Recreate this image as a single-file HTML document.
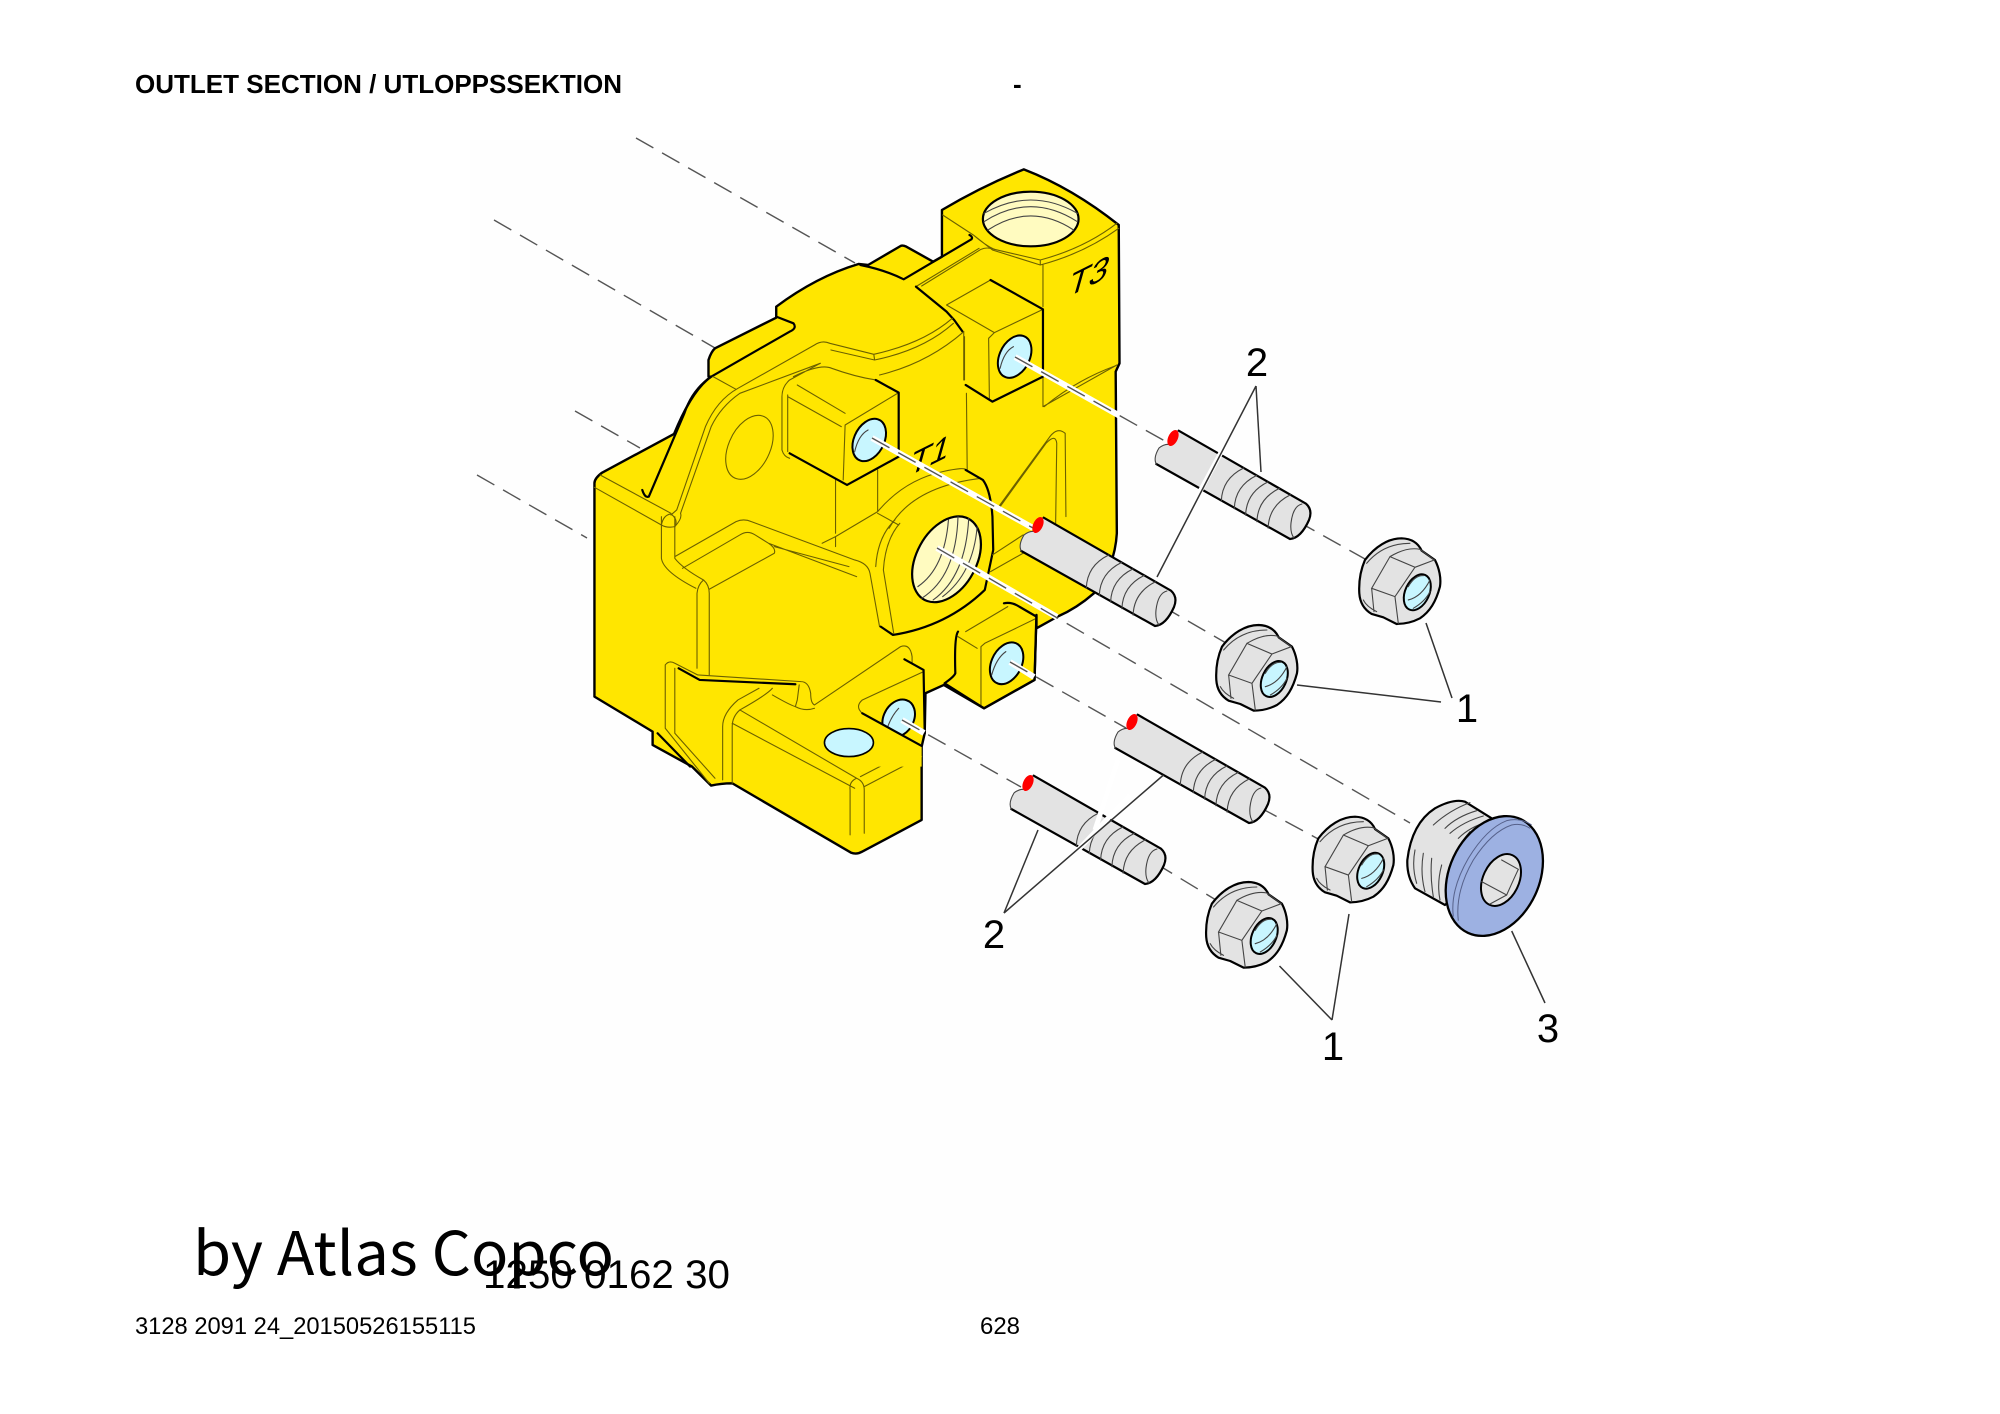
<!DOCTYPE html>
<html><head><meta charset="utf-8"><title>Outlet section</title>
<style>
html,body{margin:0;padding:0;background:#fff}
svg{display:block}
svg *{vector-effect:non-scaling-stroke}
.k{fill:none;stroke:#000;stroke-width:2.2;stroke-linejoin:round;stroke-linecap:round}
.t{fill:none;stroke:#6b6000;stroke-width:1.1;stroke-linejoin:round;stroke-linecap:round}
.g{fill:none;stroke:#444;stroke-width:1.1;stroke-linecap:round}
.d{stroke:#555;stroke-width:1.4;stroke-dasharray:20 10;fill:none}
.w{stroke:#fff;stroke-width:6;fill:none}
.l{stroke:#333;stroke-width:1.5;fill:none}
.h{stroke:#fff;stroke-width:5;fill:none}
.c{fill:#c8f6ff;stroke:#000;stroke-width:2}
.y{fill:#fffbc0;stroke:#000;stroke-width:2.2}
text{font-family:"Liberation Sans",sans-serif;fill:#000}
.n{font-size:40px;text-anchor:middle}
</style></head>
<body>
<svg width="2000" height="1414" viewBox="0 0 2000 1414" xmlns="http://www.w3.org/2000/svg">
<defs>
<g id="stud">
<path d="M5.7 -7.3L133 65.7Q140 72 136 82Q128 100 117 101L-16.7 26Q-20 20 -14 10Q-8 5 -1.7 6.7Z" fill="#e3e3e3"/>
<path class="k" d="M5.7 -7.3L133 65.7Q140 72 136 82Q128 100 117 101L-16.7 26"/>
<path class="g" d="M-16.7 26Q-20 20 -14 10Q-8 5 -1.7 6.7"/>
<path class="g" d="M70.7 30Q49 40.6 48.3 63.3M83.7 37.4Q62 48 61.3 70.7M95 43.9Q73.4 54.5 72.6 77.2M106.3 50.4Q84.7 61 83.9 83.7M117.5 56.8Q95.9 67.5 95.1 90.1M129 66Q120 68 118 85Q117 95 121 100"/>
<ellipse cx="0" cy="0" rx="4.8" ry="8.5" transform="rotate(25)" fill="#f00"/>
</g>
<g id="nut">
<g transform="scale(.3333) translate(-952,-787)">
<path d="M795 690C825 650 865 625 905 625C935 626 955 640 965 662L1005 690C1018 715 1024 745 1020 770C1008 815 990 845 960 865C935 878 915 882 890 882L850 862L815 852C795 840 780 820 778 790C776 755 782 720 795 690Z" fill="#e3e3e3" stroke="#000" stroke-width="2.2" stroke-linejoin="round"/>
<path class="g" d="M870 680L945 712L885 800L815 775ZM870 680Q920 650 960 658L1003 690L945 712M815 775L822 845M885 800L895 880M800 700Q850 640 930 640M790 810Q800 830 830 845"/>
<ellipse cx="952" cy="787" rx="36" ry="57" transform="rotate(25 952 787)" class="c"/>
<path class="g" d="M925 770Q945 735 972 737M925 810Q965 800 990 750M940 835Q975 815 990 785"/>
</g>
</g>
</defs>

<rect width="2000" height="1414" fill="#fff"/>
<rect x="470" y="140" width="1130" height="1160" fill="#fefefe"/>

<!-- header / footer text -->
<text x="135" y="93" font-size="26" font-weight="bold" textLength="487" lengthAdjust="spacingAndGlyphs">OUTLET SECTION / UTLOPPSSEKTION</text>
<text x="1013" y="93" font-size="26" font-weight="bold">-</text>
<text x="193" y="1275" style="font-family:'Noto Sans CJK SC','Liberation Sans',sans-serif" font-size="60" textLength="421" lengthAdjust="spacingAndGlyphs">by Atlas Copco</text>
<text x="483" y="1288" font-size="40" textLength="247" lengthAdjust="spacingAndGlyphs">1250 0162 30</text>
<text x="135" y="1334" font-size="23.6" textLength="341" lengthAdjust="spacingAndGlyphs">3128 2091 24_20150526155115</text>
<text x="980" y="1334" font-size="23.6" textLength="40" lengthAdjust="spacingAndGlyphs">628</text>

<!-- far dashed lines -->
<line class="d" x1="636" y1="138" x2="855" y2="263"/>
<line class="d" x1="494" y1="220" x2="715" y2="348"/>
<line class="d" x1="575" y1="411" x2="640" y2="448"/>
<line class="d" x1="477" y1="475" x2="587" y2="538"/>

<!-- main body -->
<g transform="translate(560,150) scale(.3827,.3333)">
<path fill="#ffe600" stroke="#000" stroke-width="2.4" stroke-linejoin="round" d="M90 1000Q90 985 110 968L298 852Q345 720 395 680L388 680L388 630Q395 605 405 595L565 503L565 470Q670 380 780 342L805 345L890 288Q895 285 905 290L975 335L998 320L998 180Q1100 110 1212 58Q1340 115 1460 225L1462 640L1452 665L1455 1150Q1450 1250 1395 1330Q1350 1375 1300 1400L1245 1435L1245 1395L1240 1590L1108 1675L1003 1605L955 1630L953 1750L945 1790L945 2010L790 2105Q775 2115 760 2108L450 1900Q420 1900 395 1907L345 1850L242 1785L242 1745L90 1640Z"/>

<!-- tower -->
<ellipse cx="1230" cy="207" rx="125" ry="82" class="y"/>
<path class="g" d="M1108 190Q1230 110 1352 190M1108 215Q1230 125 1352 215M1118 240Q1230 156 1342 240"/>
<path class="t" d="M1000 195L1080 255Q1110 285 1135 298L1255 330Q1370 295 1455 220M1080 255L1130 300L1255 345Q1370 310 1460 235M1255 330L1255 345M1262 345L1262 470M1262 680L1262 770L1455 645M1265 770Q1350 690 1450 648"/>
<path class="k" d="M785 345Q850 360 898 388L1075 268Q1080 262 1070 255"/>
<path class="t" d="M945 408L1100 298Q1115 290 1135 298M930 410L1095 295"/>
<path class="k" d="M930 410L1010 485L1030 510L1052 545"/>

<!-- upper plate -->
<path class="k" d="M565 500L610 520Q620 535 600 545L395 680M395 680Q345 720 325 790L232 1040Q222 1045 215 1020"/>
<path class="t" d="M1025 505Q950 580 820 613L705 580Q685 570 665 585L465 715Q410 750 380 830L305 1080L290 1095M1055 545Q960 640 835 675M820 613L822 630Q950 600 1028 520M708 600L822 630M680 640L470 730Q420 770 395 830L315 1090Q320 1105 300 1130M400 680L460 718M105 975L290 1090M90 1012L265 1125M265 1125Q270 1095 290 1092Q310 1110 300 1130Q280 1135 265 1125"/>
<ellipse cx="495" cy="892" rx="55" ry="100" transform="rotate(20 495 892)" class="t"/>
<path class="t" d="M1057 560L1057 690M1062 730L1064 960M1140 1080L1280 860Q1300 830 1320 850L1322 1100M1150 1070L1270 880Q1295 850 1298 880L1295 1130M720 990L720 1150M830 960L830 1085L720 1160M830 1090L885 1125M830 1085Q900 990 1000 965Q1060 950 1060 960M860 1135Q920 1010 1100 985"/>

<!-- T3 block -->
<path class="t" d="M1010 465L1125 390M1010 465L1135 548L1262 478M1135 548L1120 565L1122 750M1055 545L1055 690"/>
<path class="k" d="M1125 390L1262 478L1262 680L1130 755L1060 705"/>
<ellipse cx="1188" cy="620" rx="40" ry="66" transform="rotate(20 1188 620)" class="c"/>
<path class="g" d="M1150 655Q1160 605 1185 590"/>

<!-- T1 block -->
<path class="t" d="M595 735L595 905M595 740L735 830M620 705L745 790M885 728L745 825L740 990M680 640L600 690Q580 710 580 740L580 900Q585 920 600 925M610 680Q680 640 710 655Q770 680 825 690"/>
<path class="k" d="M825 690L885 728L885 920L750 1005L600 910"/>
<ellipse cx="808" cy="870" rx="40" ry="66" transform="rotate(20 808 870)" class="c"/>
<path class="g" d="M770 905Q780 855 805 840"/>

<!-- lower features, y offset = zoom 2 -->
<g transform="translate(0,1050)">
<path class="t" d="M265 50L265 175Q270 215 355 265M300 50L300 175Q320 205 375 240M300 170L460 65Q480 55 500 65L770 180Q805 190 810 220L835 380M320 205L470 105Q490 90 510 105L545 130L775 230M560 140L755 200M545 130Q565 145 560 160L390 268M375 240Q360 255 358 280L358 505M375 240Q390 255 390 280L390 525"/>
<path class="t" d="M720 110L685 130M720 110L720 140"/>
<path class="t" d="M275 495Q285 480 300 490L360 525L630 545Q650 545 655 580Q655 610 665 615L890 440Q915 430 920 470L920 490M300 505L300 700L405 835M275 495L275 685L390 850M520 565L465 600Q425 640 425 680L425 840M555 565Q540 585 470 630Q450 650 450 680L450 850M555 585Q600 615 615 620Q640 635 665 625M625 555L620 600L615 620"/>
<path class="k" d="M310 505L365 540L615 553M255 700L340 800"/>
<path class="t" d="M450 670L770 865M470 630L775 835Q795 845 795 870M775 835Q755 845 758 870M795 860L945 770M785 830L945 735M758 870L758 1005M795 870L795 1000"/>

<!-- boss -->
<path class="k" d="M1060 -90L1105 -60Q1125 -30 1130 50L1132 150L1110 270Q1010 380 870 405L838 380"/>
<path class="t" d="M888 70Q850 120 845 210L872 400M875 60Q830 110 825 200M1125 215L1225 150M1130 165L1210 105"/>
<ellipse cx="1010" cy="178" rx="80" ry="135" transform="rotate(22 1010 178)" class="y"/>
<path class="g" d="M945 295Q1035 230 1040 50M975 300Q1060 230 1068 55M1000 290Q1080 220 1090 80M935 260Q1005 205 1015 60"/>

<!-- notch -->
<ellipse cx="885" cy="655" rx="40" ry="58" transform="rotate(20 885 655)" class="c"/>
<path class="g" d="M855 685Q865 650 885 625"/>
<path d="M790 640L945 738L945 800L790 800Z" fill="#ffe600"/>
<path class="t" d="M950 515L790 600Q770 620 790 640"/>
<path class="k" d="M790 640L945 738M900 478L950 510L953 700"/>
<ellipse cx="755" cy="728" rx="64" ry="42" fill="#c8f6ff" stroke="#000" stroke-width="1.6"/>

<!-- small block -->
<path class="t" d="M1060 395L1170 320M1245 355L1110 430L1100 440L1100 620M1040 410L1090 445"/>
<path class="k" d="M1040 395Q1030 410 1033 520Q1030 530 1005 550L1108 625L1240 540L1245 350L1200 320Q1180 305 1160 310"/>
<ellipse cx="1167" cy="490" rx="40" ry="65" transform="rotate(20 1167 490)" class="c"/>
<path class="g" d="M1128 525Q1140 475 1165 455"/>
</g>
</g>

<text transform="matrix(.92 -.46 -.27 .96 907 477)" font-size="37">T1</text>
<text transform="matrix(.92 -.46 -.27 .96 1066 298)" font-size="37">T3</text>

<!-- axis lines -->
<line class="w" x1="1015" y1="357" x2="1120" y2="416"/>
<line class="w" x1="872" y1="438" x2="1033" y2="528"/>
<line class="w" x1="937" y1="548" x2="1057" y2="617"/>
<line class="w" x1="1010" y1="662" x2="1034" y2="677"/>
<line class="w" x1="902" y1="720" x2="924" y2="733"/>
<line class="d" x1="1015" y1="357" x2="1172" y2="445"/>
<line class="d" x1="872" y1="438" x2="1033" y2="528"/>
<line class="d" x1="937" y1="548" x2="1410" y2="823"/>
<line class="d" x1="1010" y1="662" x2="1126" y2="728"/>
<line class="d" x1="902" y1="720" x2="1021" y2="787"/>
<line class="d" x1="1297" y1="521" x2="1365" y2="559"/>
<line class="d" x1="1162" y1="606" x2="1226" y2="643"/>
<line class="d" x1="1259" y1="807" x2="1320" y2="840"/>
<line class="d" x1="1155" y1="863" x2="1216" y2="900"/>

<!-- studs -->
<use href="#stud" x="1173" y="438"/>
<use href="#stud" x="1038" y="525"/>
<use href="#stud" x="1132" y="722"/>
<use href="#stud" x="1028" y="783"/>

<!-- nuts -->
<use href="#nut" x="1417.3" y="592.3"/>
<use href="#nut" x="1274.3" y="679"/>
<use href="#nut" x="1370.7" y="870.7"/>
<use href="#nut" x="1264.2" y="936"/>

<!-- plug -->
<g transform="translate(1390,780) scale(.3333)">
<path d="M165 375L75 325Q50 290 52 240Q65 130 135 85Q190 55 225 65L305 115L250 300Z" fill="#e3e3e3" stroke="#000" stroke-width="2.2" stroke-linejoin="round"/>
<path class="g" d="M130 135Q180 90 240 68M165 145Q200 110 260 92M180 160Q220 125 280 108M205 175Q240 140 295 125M75 210Q65 260 80 310M100 220Q90 280 105 335M125 235Q120 290 130 350M155 255Q140 310 150 360M240 155Q200 200 180 260"/>
<ellipse cx="313" cy="288" rx="135" ry="188" transform="rotate(25 313 288)" fill="#9db1e2" stroke="#000" stroke-width="2.3"/>
<path fill="none" stroke="#56618a" stroke-width="1" d="M190 410Q180 330 235 235Q290 145 350 122Q390 112 425 135M205 422Q195 335 250 240Q305 155 365 135Q395 128 420 145"/>
<ellipse cx="333" cy="300" rx="54" ry="82" transform="rotate(25 333 300)" fill="#e3e3e3" stroke="#000" stroke-width="2"/>
<path class="g" d="M335 240L385 268Q370 300 350 345L275 305M350 345L300 372"/>
</g>

<!-- leaders -->
<g>
<line class="h" x1="1225" y1="445" x2="1190" y2="510"/>
<line class="h" x1="1118" y1="760" x2="1095" y2="830"/>
<line class="h" x1="1130" y1="795" x2="1078" y2="850"/>
<line class="l" x1="1256" y1="386" x2="1261" y2="472"/>
<line class="l" x1="1256" y1="386" x2="1157" y2="577"/>
<line class="l" x1="1452" y1="698" x2="1426" y2="623"/>
<line class="l" x1="1441" y1="702" x2="1297" y2="685"/>
<line class="l" x1="1004" y1="913" x2="1038" y2="830"/>
<line class="l" x1="1004" y1="913" x2="1163.5" y2="775"/>
<line class="l" x1="1332" y1="1020" x2="1279.5" y2="966"/>
<line class="l" x1="1332" y1="1020" x2="1349" y2="914"/>
<line class="l" x1="1511.7" y1="931" x2="1545" y2="1003"/>
</g>

<text class="n" x="1257" y="376">2</text>
<text class="n" x="1467" y="722">1</text>
<text class="n" x="994" y="948">2</text>
<text class="n" x="1333" y="1060">1</text>
<text class="n" x="1548" y="1042">3</text>
</svg>
</body></html>
